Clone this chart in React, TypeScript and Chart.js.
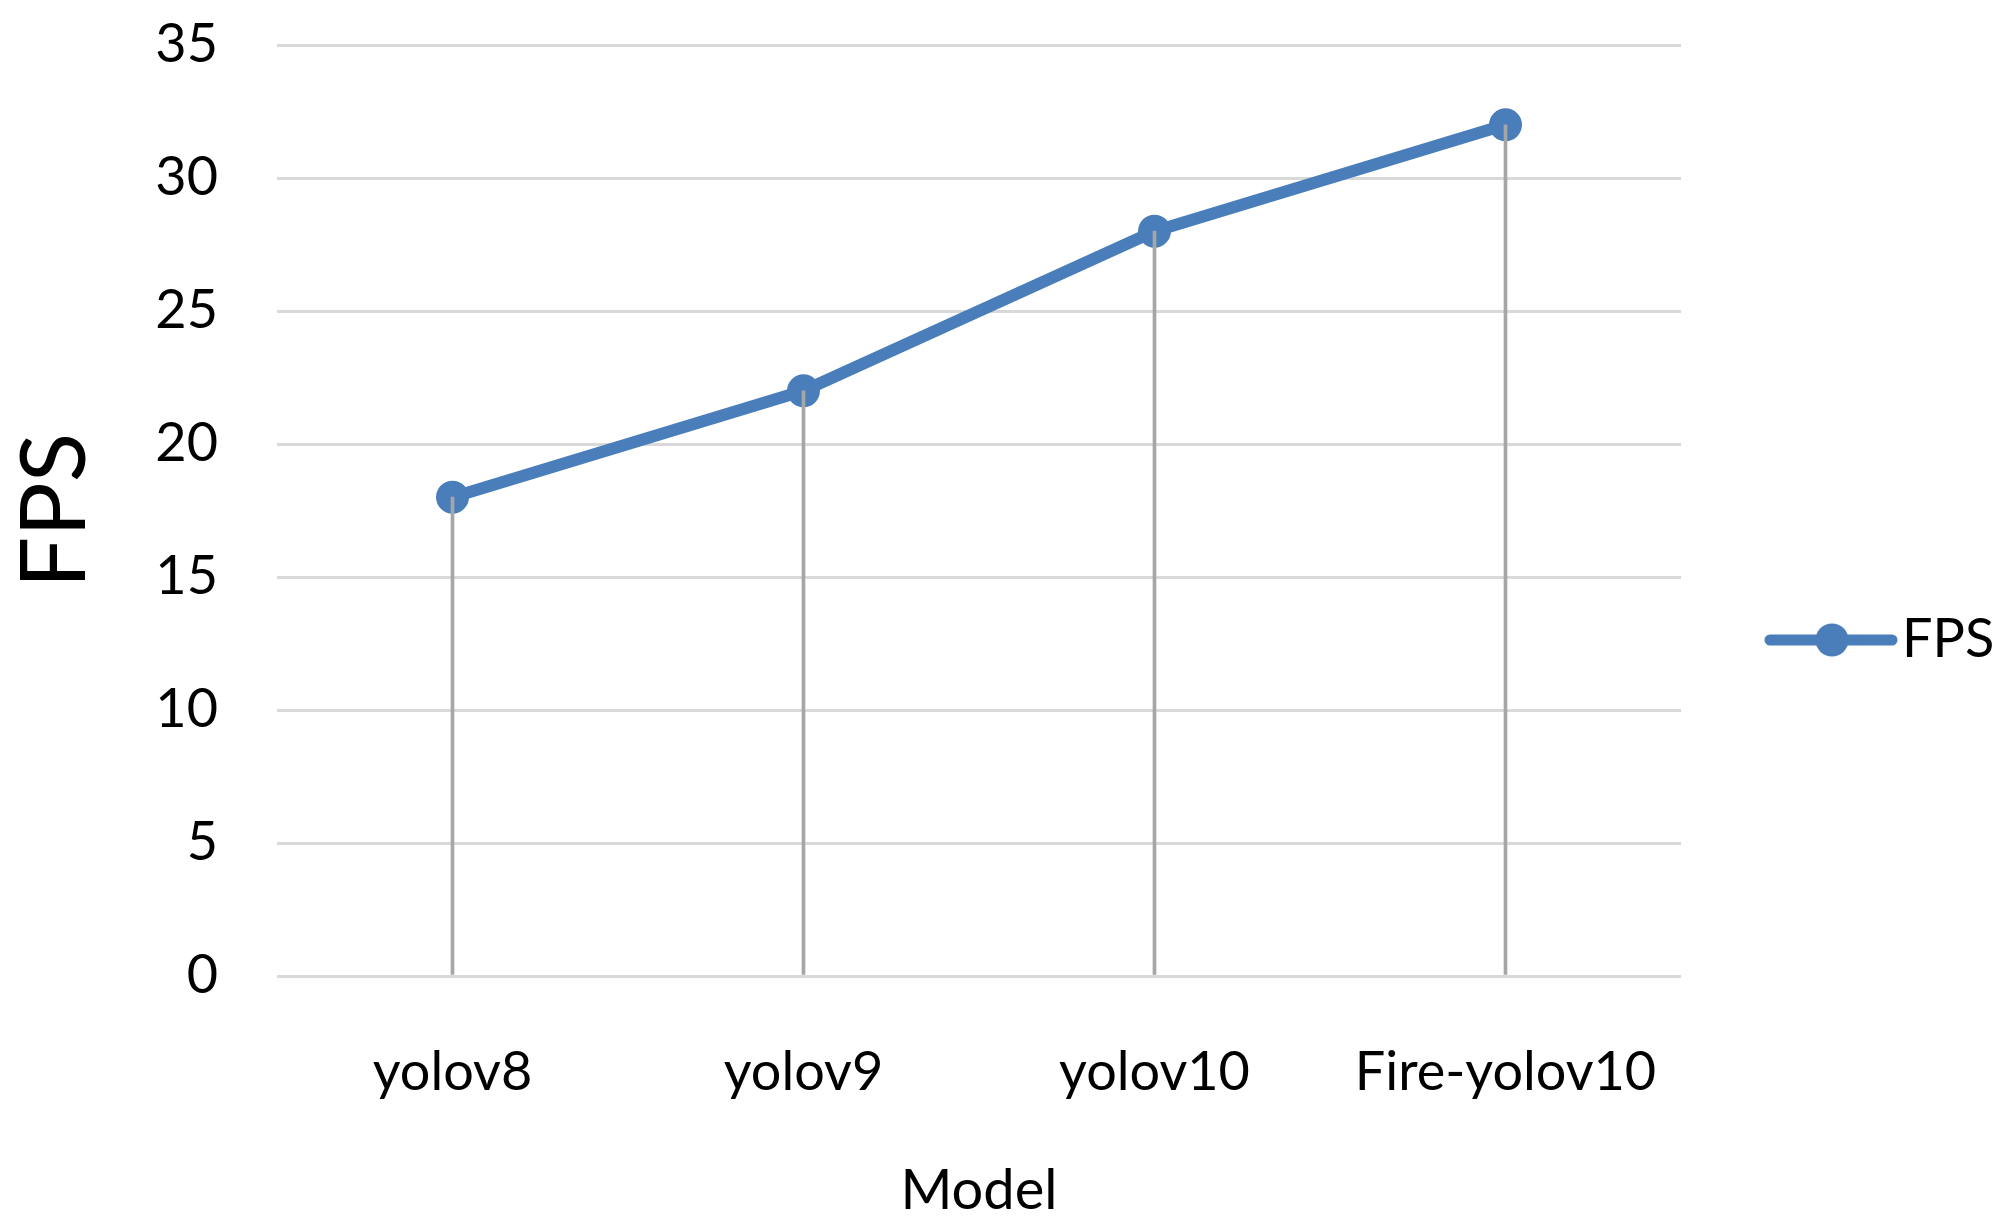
import React, { useEffect, useRef } from "react";
import { Chart, registerables } from "chart.js";

Chart.register(...registerables);

const categories = ["yolov8", "yolov9", "yolov10", "Fire-yolov10"];
const fpsValues = [18, 22, 28, 32];
const seriesLabel = "FPS";
const yTitle = "FPS";
const xTitle = "Model";
const yMin = 0;
const yMax = 35;
const yStep = 5;

const FONT = "Lato, 'Open Sans', sans-serif";
const LINE_COLOR = "#4A7EBB";
const GRID_COLOR = "#D9D9D9";
const DROP_COLOR = "#A6A6A6";

const legendPlugin = {
  id: "customLegend",
  afterDraw(chart: any) {
    const ctx = chart.ctx;
    const y = 640;
    ctx.save();
    ctx.strokeStyle = LINE_COLOR;
    ctx.lineWidth = 11;
    ctx.lineCap = "round";
    ctx.beginPath();
    ctx.moveTo(1770, y);
    ctx.lineTo(1892, y);
    ctx.stroke();
    ctx.fillStyle = LINE_COLOR;
    ctx.beginPath();
    ctx.arc(1832, y, 16.5, 0, Math.PI * 2);
    ctx.fill();
    ctx.fillStyle = "#000";
    ctx.font = `54px ${FONT}`;
    ctx.textBaseline = "middle";
    ctx.textAlign = "left";
    ctx.fillText(seriesLabel, 1902, y);
    ctx.restore();
  },
};

export default function App() {
  const ref = useRef<HTMLCanvasElement | null>(null);

  useEffect(() => {
    if (!ref.current) return;
    const chart = new Chart(ref.current, {
      type: "line",
      data: {
        labels: categories,
        datasets: [
          {
            type: "line",
            label: seriesLabel,
            data: fpsValues,
            borderColor: LINE_COLOR,
            backgroundColor: LINE_COLOR,
            borderWidth: 12,
            borderCapStyle: "round",
            borderJoinStyle: "round",
            pointRadius: 16.5,
            pointBorderWidth: 0,
            pointBackgroundColor: LINE_COLOR,
            tension: 0,
            order: 1,
          } as any,
          {
            type: "bar",
            label: "drop",
            data: fpsValues,
            backgroundColor: DROP_COLOR,
            borderWidth: 0,
            barThickness: 3,
            order: 0,
          } as any,
        ],
      },
      options: {
        responsive: false,
        animation: false,
        devicePixelRatio: 1,
        layout: { padding: { top: 45, right: 319, left: 0, bottom: 0 } },
        plugins: {
          legend: { display: false },
          tooltip: { enabled: false },
        },
        scales: {
          x: {
            offset: true,
            grid: { display: false, drawTicks: false },
            border: { display: false },
            ticks: {
              color: "#000",
              font: { family: FONT, size: 54 },
              padding: 64,
              maxRotation: 0,
              autoSkip: false,
            },
            title: {
              display: true,
              text: xTitle,
              color: "#000",
              font: { family: FONT, size: 56 },
              padding: { top: 0, bottom: 4 },
            },
            afterFit(scale: any) {
              scale.height = 253;
              scale.paddingLeft = 0;
              scale.paddingRight = 0;
            },
          },
          y: {
            min: yMin,
            max: yMax,
            grid: { color: GRID_COLOR, lineWidth: 3, drawTicks: false },
            border: { display: false },
            ticks: {
              stepSize: yStep,
              color: "#000",
              font: { family: FONT, size: 54 },
              padding: 59,
            },
            title: {
              display: true,
              text: yTitle,
              color: "#000",
              font: { family: FONT, size: 91, lineHeight: 1 },
              padding: { top: 10, bottom: 0 },
            },
            afterFit(scale: any) {
              scale.width = 277;
              scale.paddingTop = 0;
              scale.paddingBottom = 0;
            },
          },
        },
      },
      plugins: [legendPlugin],
    });
    return () => chart.destroy();
  }, []);

  return (
    <div style={{ position: "fixed", left: 0, top: 0, width: 2000, height: 1229, background: "#fff" }}>
      <canvas ref={ref} width={2000} height={1229} style={{ display: "block" }} />
    </div>
  );
}
